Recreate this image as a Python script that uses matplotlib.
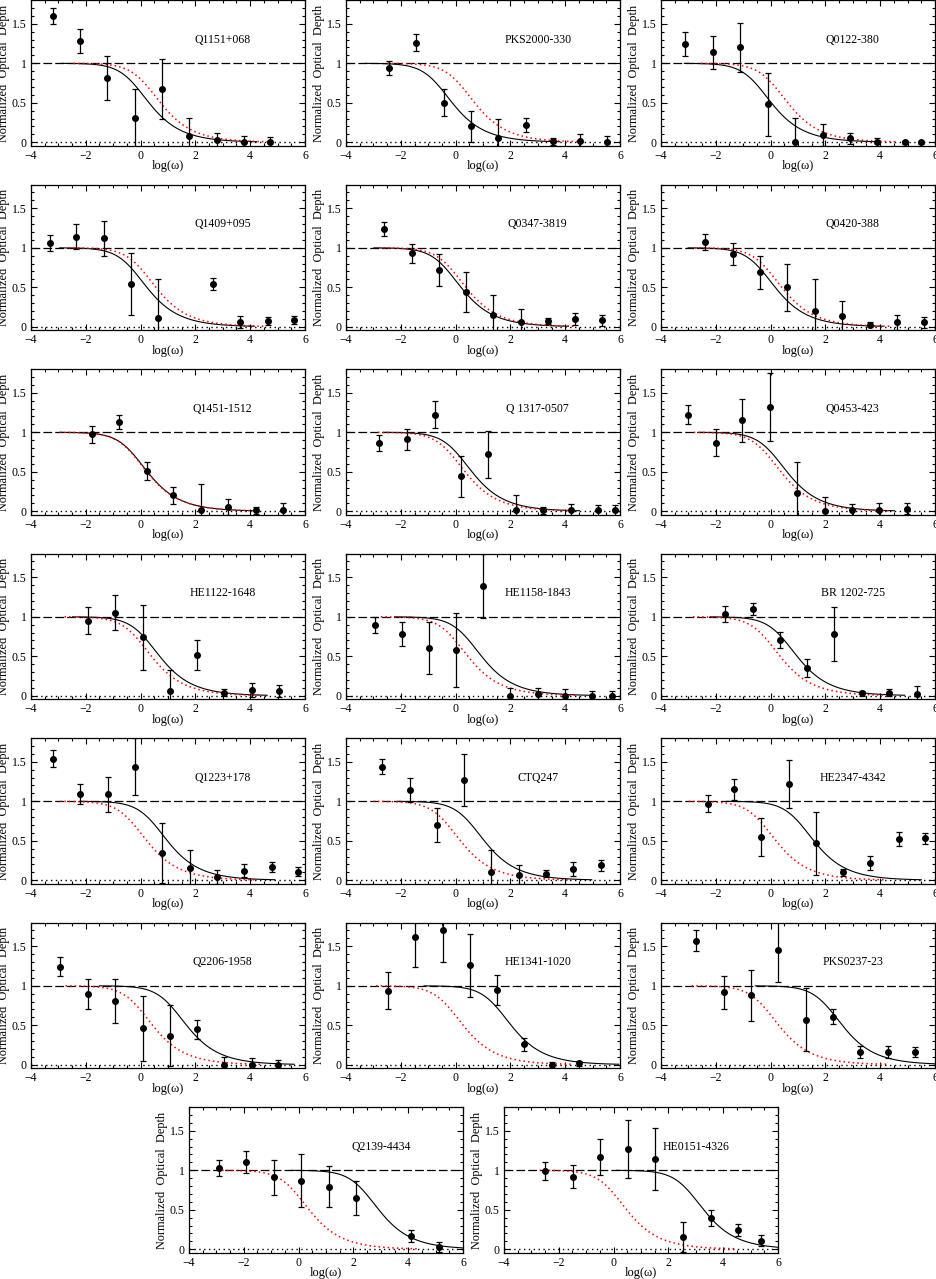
import numpy as np
import matplotlib.pyplot as plt
from matplotlib.ticker import MultipleLocator, FormatStrFormatter

plt.rcParams['font.family'] = ['Liberation Serif', 'DejaVu Serif']

# quasar names, one per panel
names = ['Q1151+068', 'PKS2000-330', 'Q0122-380',
         'Q1409+095', 'Q0347-3819', 'Q0420-388',
         'Q1451-1512', 'Q 1317-0507', 'Q0453-423',
         'HE1122-1648', 'HE1158-1843', 'BR 1202-725',
         'Q1223+178', 'CTQ247', 'HE2347-4342',
         'Q2206-1958', 'HE1341-1020', 'PKS0237-23',
         'Q2139-4434', 'HE0151-4326']

# binned log(omega) of each point
x_pts = [
    [-3.21, -2.22, -1.22, -0.22, 0.78, 1.78, 2.78, 3.78, 4.71],
    [-2.42, -1.43, -0.43, 0.57, 1.56, 2.56, 3.56, 4.55, 5.54],
    [-3.13, -2.12, -1.10, -0.09, 0.89, 1.90, 2.90, 3.90, 4.89, 5.50],
    [-3.32, -2.34, -1.34, -0.35, 0.65, 2.66, 3.64, 4.65, 5.61],
    [-2.61, -1.60, -0.60, 0.38, 1.38, 2.38, 3.36, 4.36, 5.35],
    [-2.38, -1.38, -0.38, 0.61, 1.61, 2.61, 3.61, 4.61, 5.61],
    [-1.79, -0.79, 0.22, 1.20, 2.22, 3.20, 4.21, 5.21],
    [-2.78, -1.78, -0.77, 0.20, 1.20, 2.19, 3.20, 4.20, 5.19, 5.80],
    [-3.02, -2.01, -1.03, -0.04, 0.98, 1.98, 2.97, 3.97, 4.98],
    [-1.93, -0.94, 0.07, 1.07, 2.05, 3.05, 4.06, 5.04],
    [-2.95, -1.95, -0.97, 0.02, 1.00, 2.00, 3.00, 3.98, 4.98, 5.72],
    [-1.65, -0.66, 0.34, 1.33, 2.33, 3.33, 4.33, 5.33],
    [-3.21, -2.21, -1.20, -0.20, 0.78, 1.79, 2.79, 3.77, 4.78, 5.74],
    [-2.67, -1.68, -0.68, 0.31, 1.31, 2.31, 3.29, 4.29, 5.29],
    [-2.30, -1.32, -0.35, 0.66, 1.66, 2.64, 3.64, 4.67, 5.65],
    [-2.95, -1.93, -0.94, 0.07, 1.07, 2.05, 3.05, 4.06, 5.00],
    [-2.45, -1.47, -0.46, 0.52, 1.50, 2.50, 3.51, 4.49],
    [-2.71, -1.71, -0.72, 0.28, 1.29, 2.29, 3.27, 4.27, 5.26],
    [-2.91, -1.91, -0.91, 0.10, 1.10, 2.10, 4.10, 5.11],
    [-2.49, -1.49, -0.48, 0.52, 1.51, 2.53, 3.54, 4.54, 5.38],
]

# normalized optical depth
y_pts = [
    [1.60, 1.28, 0.81, 0.31, 0.68, 0.08, 0.025, 0.0, 0.0],
    [0.94, 1.26, 0.50, 0.20, 0.06, 0.22, 0.01, 0.01, 0.0],
    [1.24, 1.14, 1.20, 0.48, 0.0, 0.09, 0.05, 0.0, 0.0, 0.0],
    [1.06, 1.14, 1.12, 0.54, 0.11, 0.54, 0.06, 0.07, 0.08],
    [1.24, 0.93, 0.72, 0.44, 0.15, 0.06, 0.07, 0.10, 0.08],
    [1.07, 0.92, 0.69, 0.50, 0.20, 0.13, 0.025, 0.055, 0.055],
    [0.975, 1.13, 0.51, 0.20, 0.02, 0.05, 0.01, 0.01],
    [0.86, 0.91, 1.22, 0.44, 0.72, 0.01, 0.01, 0.01, 0.01, 0.01],
    [1.22, 0.87, 1.15, 1.32, 0.23, 0.0, 0.01, 0.02, 0.03],
    [0.95, 1.05, 0.74, 0.055, 0.51, 0.04, 0.07, 0.06],
    [0.90, 0.78, 0.61, 0.58, 1.39, 0.0, 0.02, 0.0, 0.0, 0.0],
    [1.04, 1.10, 0.71, 0.35, 0.78, 0.03, 0.04, 0.02],
    [1.54, 1.09, 1.09, 1.44, 0.34, 0.16, 0.04, 0.12, 0.17, 0.11],
    [1.44, 1.14, 0.70, 1.27, 0.10, 0.07, 0.085, 0.14, 0.19],
    [0.97, 1.15, 0.55, 1.22, 0.47, 0.10, 0.22, 0.52, 0.53],
    [1.24, 0.89, 0.81, 0.46, 0.37, 0.45, 0.0, 0.0, 0.0],
    [0.94, 1.62, 1.71, 1.26, 0.95, 0.26, 0.0, 0.02],
    [1.57, 0.92, 0.88, 1.45, 0.57, 0.61, 0.16, 0.16, 0.16],
    [1.03, 1.11, 0.91, 0.87, 0.79, 0.65, 0.17, 0.03],
    [0.99, 0.92, 1.17, 1.27, 1.14, 0.16, 0.40, 0.245, 0.11],
]

y_err = [
    [0.10, 0.15, 0.28, 0.37, 0.38, 0.23, 0.09, 0.08, 0.07],
    [0.09, 0.11, 0.17, 0.20, 0.24, 0.09, 0.05, 0.10, 0.08],
    [0.15, 0.21, 0.31, 0.40, 0.31, 0.14, 0.07, 0.06, 0.02, 0.02],
    [0.10, 0.16, 0.22, 0.39, 0.49, 0.08, 0.08, 0.05, 0.05],
    [0.09, 0.12, 0.20, 0.25, 0.25, 0.17, 0.04, 0.08, 0.07],
    [0.10, 0.14, 0.21, 0.30, 0.40, 0.20, 0.03, 0.09, 0.07],
    [0.11, 0.09, 0.11, 0.11, 0.33, 0.10, 0.04, 0.10],
    [0.10, 0.13, 0.17, 0.26, 0.30, 0.19, 0.04, 0.08, 0.07, 0.07],
    [0.12, 0.17, 0.27, 0.43, 0.39, 0.18, 0.08, 0.08, 0.07],
    [0.17, 0.22, 0.41, 0.27, 0.19, 0.04, 0.09, 0.08],
    [0.10, 0.15, 0.33, 0.47, 0.40, 0.10, 0.08, 0.08, 0.06, 0.06],
    [0.10, 0.08, 0.10, 0.11, 0.34, 0.03, 0.04, 0.10],
    [0.11, 0.13, 0.22, 0.36, 0.38, 0.22, 0.09, 0.08, 0.06, 0.06],
    [0.10, 0.15, 0.21, 0.33, 0.28, 0.12, 0.04, 0.09, 0.07],
    [0.11, 0.13, 0.24, 0.30, 0.40, 0.04, 0.09, 0.09, 0.07],
    [0.12, 0.19, 0.28, 0.41, 0.39, 0.12, 0.10, 0.08, 0.06],
    [0.24, 0.38, 0.41, 0.40, 0.19, 0.08, 0.04, 0.03],
    [0.13, 0.21, 0.32, 0.40, 0.40, 0.10, 0.08, 0.08, 0.06],
    [0.10, 0.14, 0.22, 0.33, 0.26, 0.22, 0.08, 0.06],
    [0.11, 0.15, 0.23, 0.37, 0.39, 0.19, 0.10, 0.08, 0.07],
]

# log shift of the individual fit (solid) and of the reference model (red dotted)
s_fit = [-0.17, -0.60, -0.45, -0.25, -0.28, -0.31, -0.23, 0.12, 0.12, 0.22,
         0.47, 0.49, 0.50, 0.57, 1.10, 1.20, 1.55, 2.14, 2.45, 2.81]
s_ref = [0.25, 0.22, 0.15, 0.08, -0.10, -0.07, -0.25, -0.13, -0.10, -0.08,
         -0.03, -0.13, -0.25, -0.30, -0.28, -0.04, -0.20, -0.18, -0.09, 0.0]


def depth(logw, shift):
    return (1.0 + 10.0 ** (logw - shift)) ** -0.5


def curve(shift):
    x = np.linspace(shift - 2.7, min(shift + 4.4, 6.0), 300)
    return x, depth(x, shift)


W, H = 937, 1279
ax_w, ax_h = 274, 145.7
fig = plt.figure(figsize=(W / 100, H / 100), dpi=100)

for i, name in enumerate(names):
    row, col = divmod(i, 3)
    left = [31, 346, 661][col] if row < 6 else [189, 504][col]
    top = 0.1 + 184.5 * row
    ax = fig.add_axes([left / W, (H - top - ax_h) / H, ax_w / W, ax_h / H])

    ax.axhline(1, color='k', lw=0.9, ls=(0, (7, 2.5)))
    ax.axhline(0, color='k', lw=1.0, ls=(0, (1, 2.5)))

    xb, yb = curve(s_fit[i])
    ax.plot(xb, yb, color='k', lw=0.8)
    xr, yr = curve(s_ref[i])
    ax.plot(xr, yr, color='red', lw=1.1, ls=(0, (1, 2)))

    ax.errorbar(x_pts[i], y_pts[i], yerr=y_err[i], fmt='o', color='k',
                ms=4, capsize=2.2, elinewidth=0.9, capthick=0.9)
    ax.text(3.0, 1.3, name, ha='center', va='center', fontsize=8.5)

    ax.set_xlim(-4, 6)
    ax.set_ylim(-0.045, 1.8)
    ax.xaxis.set_major_locator(MultipleLocator(2))
    ax.xaxis.set_minor_locator(MultipleLocator(0.5))
    ax.yaxis.set_major_locator(MultipleLocator(0.5))
    ax.yaxis.set_minor_locator(MultipleLocator(0.1))
    ax.yaxis.set_major_formatter(FormatStrFormatter('%g'))
    ax.tick_params(which='both', direction='in', top=True, right=True,
                   width=0.8, labelsize=8.5, pad=3)
    ax.tick_params(which='major', length=4)
    ax.tick_params(which='minor', length=2)
    for sp in ax.spines.values():
        sp.set_linewidth(0.9)

    ax.set_xlabel('log(ω)', fontsize=9)
    ax.set_ylabel('Normalized  Optical  Depth', fontsize=8.8)
    ax.xaxis.set_label_coords(0.5, -0.1)
    ax.yaxis.set_label_coords(-0.1, 0.5)
    ax.xaxis.label.set_va('top')
    ax.yaxis.label.set_va('center')

fig.savefig('out.png', dpi=100)
